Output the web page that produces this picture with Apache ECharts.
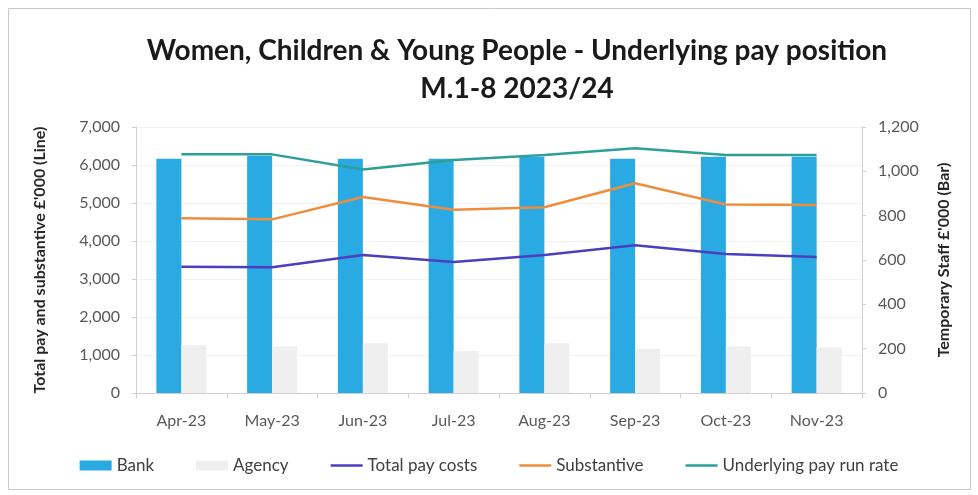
<!DOCTYPE html>
<html>
<head>
<meta charset="utf-8">
<script src="https://cdn.jsdelivr.net/npm/echarts@6/dist/echarts.min.js"></script>
<style>
  html, body { margin: 0; padding: 0; background: #ffffff; }
  #chart { width: 978px; height: 495px; }
</style>
</head>
<body>
<div id="chart"></div>
<script>
// Months of the 2023/24 financial year shown (M.1-8)
const months = ['Apr-23', 'May-23', 'Jun-23', 'Jul-23', 'Aug-23', 'Sep-23', 'Oct-23', 'Nov-23'];

// Temporary staff spend, £'000 (bars, right axis)
const bank = [1057, 1070, 1057, 1057, 1066, 1057, 1066, 1066];
const agency = [215, 210, 225, 190, 225, 200, 210, 205];

// Pay lines, £'000 (left axis)
const totalPayCosts = [3320, 3310, 3630, 3450, 3630, 3890, 3660, 3580];
const substantive = [4600, 4570, 5160, 4820, 4890, 5520, 4960, 4950];
const underlyingRunRate = [6280, 6280, 5880, 6130, 6260, 6440, 6260, 6260];

const leftTicks = { min: 0, max: 7000, interval: 1000 };
const rightTicks = { min: 0, max: 1200, interval: 200 };

const FONT = 'Lato, "Liberation Sans", sans-serif';
const fmt = v => v.toLocaleString('en-GB');
const LINE_ICON = 'path://M0,0 L32,0 L32,2.5 L0,2.5 Z';

const chart = echarts.init(document.getElementById('chart'), null, { renderer: 'canvas' });

chart.setOption({
  animation: false,
  backgroundColor: '#ffffff',
  textStyle: { fontFamily: FONT },
  graphic: [{
    type: 'rect',
    shape: { x: 8.5, y: 8.5, width: 962, height: 481 },
    style: { fill: 'none', stroke: '#c8c8c8', lineWidth: 1 },
    silent: true
  }],
  title: {
    text: 'Women, Children & Young People - Underlying pay position\nM.1-8 2023/24',
    left: 512,
    top: 27,
    textAlign: 'center',
    textStyle: { fontFamily: FONT, fontSize: 28, fontWeight: 'bold', color: '#1a1a1a', lineHeight: 38 }
  },
  legend: {
    bottom: 16,
    left: 'center',
    itemWidth: 32,
    itemHeight: 10,
    itemGap: 42,
    symbolKeepAspect: true,
    textStyle: { fontFamily: FONT, fontSize: 17, color: '#404040' },
    data: [
      { name: 'Bank', icon: 'rect' },
      { name: 'Agency', icon: 'rect' },
      { name: 'Total pay costs', icon: LINE_ICON },
      { name: 'Substantive', icon: LINE_ICON },
      { name: 'Underlying pay run rate', icon: LINE_ICON }
    ]
  },
  grid: { left: 136, right: 116, top: 127, bottom: 102 },
  xAxis: {
    type: 'category',
    data: months,
    axisLine: { lineStyle: { color: '#d0d0d0' } },
    axisTick: { show: true, alignWithLabel: false, lineStyle: { color: '#d0d0d0' } },
    axisLabel: { fontFamily: FONT, fontSize: 16, color: '#595959', margin: 20 }
  },
  yAxis: [{
    type: 'value',
    min: leftTicks.min, max: leftTicks.max, interval: leftTicks.interval,
    name: "Total pay and substantive £'000 (Line)",
    nameLocation: 'middle',
    nameGap: 88,
    nameRotate: 90,
    nameTextStyle: { fontFamily: FONT, fontSize: 16, fontWeight: 'bold', color: '#262626' },
    axisLine: { show: true, lineStyle: { color: '#d0d0d0' } },
    axisTick: { show: true, length: 4, lineStyle: { color: '#d0d0d0' } },
    axisLabel: { fontFamily: FONT, fontSize: 16, color: '#595959', margin: 16, formatter: fmt },
    splitLine: { show: true, lineStyle: { color: '#f2f2f2' } }
  }, {
    type: 'value',
    min: rightTicks.min, max: rightTicks.max, interval: rightTicks.interval,
    name: "Temporary Staff £'000 (Bar)",
    nameLocation: 'middle',
    nameGap: 74,
    nameRotate: 90,
    nameTextStyle: { fontFamily: FONT, fontSize: 16, fontWeight: 'bold', color: '#262626' },
    axisLine: { show: true, lineStyle: { color: '#d0d0d0' } },
    axisTick: { show: true, length: 4, lineStyle: { color: '#d0d0d0' } },
    axisLabel: { fontFamily: FONT, fontSize: 16, color: '#595959', margin: 16, formatter: fmt },
    splitLine: { show: false }
  }],
  series: [{
    name: 'Bank',
    type: 'bar',
    yAxisIndex: 1,
    data: bank,
    barWidth: 25,
    barGap: '0%',
    itemStyle: { color: '#2aaae2' }
  }, {
    name: 'Agency',
    type: 'bar',
    yAxisIndex: 1,
    data: agency,
    barWidth: 25,
    barGap: '0%',
    itemStyle: { color: '#efefef' }
  }, {
    name: 'Total pay costs',
    type: 'line',
    yAxisIndex: 0,
    data: totalPayCosts,
    symbol: 'none',
    lineStyle: { color: '#4b3fc0', width: 2.5 },
    itemStyle: { color: '#4b3fc0' }
  }, {
    name: 'Substantive',
    type: 'line',
    yAxisIndex: 0,
    data: substantive,
    symbol: 'none',
    lineStyle: { color: '#ee8d3c', width: 2.5 },
    itemStyle: { color: '#ee8d3c' }
  }, {
    name: 'Underlying pay run rate',
    type: 'line',
    yAxisIndex: 0,
    data: underlyingRunRate,
    symbol: 'none',
    lineStyle: { color: '#2e9f98', width: 2.5 },
    itemStyle: { color: '#2e9f98' }
  }]
});
</script>
</body>
</html>
